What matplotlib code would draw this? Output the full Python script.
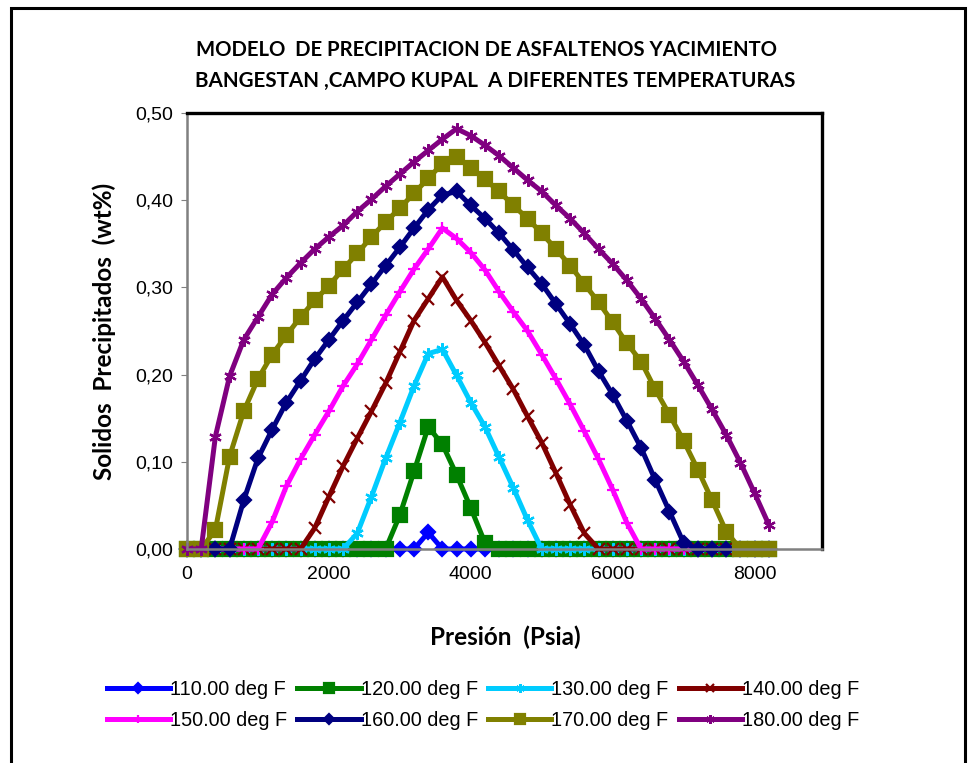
import matplotlib
matplotlib.use('Agg')
import matplotlib.pyplot as plt
from matplotlib.patches import Rectangle
from matplotlib.ticker import FuncFormatter, MultipleLocator

# Pressure grid (psia)
pressure = [0, 200, 400, 600, 800, 1000, 1200, 1400, 1600, 1800,
            2000, 2200, 2400, 2600, 2800, 3000, 3200, 3400, 3600, 3800,
            4000, 4200, 4400, 4600, 4800, 5000, 5200, 5400, 5600, 5800,
            6000, 6200, 6400, 6600, 6800, 7000, 7200, 7400, 7600, 7800,
            8000, 8200]

# Precipitated solids (wt%) per temperature
t110 = [0, 0, 0, 0, 0, 0, 0, 0, 0, 0,
        0, 0, 0, 0, 0, 0, 0, 0.019, 0, 0,
        0, 0, 0, 0, 0, 0, 0, 0, 0, 0,
        0, 0, 0, 0, 0, 0, 0, 0, 0, 0,
        0, 0]
t120 = [0, 0, 0, 0, 0, 0, 0, 0, 0, 0,
        0, 0, 0, 0, 0, 0.039, 0.089, 0.140, 0.120, 0.085,
        0.047, 0.007, 0, 0, 0, 0, 0, 0, 0, 0,
        0, 0, 0, 0, 0, 0, 0, 0, 0, 0,
        0, 0]
t130 = [0, 0, 0, 0, 0, 0, 0, 0, 0, 0,
        0, 0, 0.018, 0.060, 0.104, 0.145, 0.187, 0.224, 0.229, 0.199,
        0.168, 0.140, 0.105, 0.070, 0.033, 0, 0, 0, 0, 0,
        0, 0, 0, 0, 0, 0, 0, 0, 0, 0,
        0, 0]
t140 = [0, 0, 0, 0, 0, 0, 0, 0, 0, 0.024,
        0.060, 0.095, 0.127, 0.158, 0.190, 0.226, 0.262, 0.287, 0.312, 0.285,
        0.262, 0.237, 0.210, 0.183, 0.152, 0.122, 0.087, 0.051, 0.018, 0,
        0, 0, 0, 0, 0, 0, 0, 0, 0, 0,
        0, 0]
t150 = [0, 0, 0, 0, 0, 0, 0.031, 0.072, 0.103, 0.131,
        0.158, 0.187, 0.212, 0.240, 0.268, 0.295, 0.321, 0.344, 0.368, 0.356,
        0.340, 0.320, 0.295, 0.272, 0.250, 0.223, 0.195, 0.166, 0.135, 0.103,
        0.068, 0.030, 0, 0, 0, 0, 0, 0, 0, 0,
        0, 0]
t160 = [0, 0, 0, 0, 0.056, 0.104, 0.137, 0.168, 0.193, 0.218,
        0.240, 0.262, 0.283, 0.304, 0.325, 0.346, 0.368, 0.389, 0.406, 0.410,
        0.394, 0.379, 0.362, 0.343, 0.323, 0.304, 0.281, 0.258, 0.234, 0.204,
        0.177, 0.147, 0.116, 0.079, 0.043, 0.007, 0, 0, 0, 0,
        0, 0]
t170 = [0, 0, 0.022, 0.106, 0.158, 0.195, 0.223, 0.245, 0.266, 0.285,
        0.302, 0.321, 0.339, 0.358, 0.375, 0.391, 0.408, 0.425, 0.442, 0.450,
        0.437, 0.424, 0.410, 0.394, 0.379, 0.362, 0.344, 0.325, 0.304, 0.283,
        0.260, 0.236, 0.215, 0.183, 0.154, 0.124, 0.091, 0.056, 0.020, 0,
        0, 0]
t180 = [0, 0, 0.129, 0.198, 0.240, 0.266, 0.292, 0.311, 0.328, 0.344,
        0.358, 0.371, 0.387, 0.401, 0.416, 0.430, 0.444, 0.457, 0.470, 0.482,
        0.474, 0.463, 0.451, 0.437, 0.423, 0.410, 0.394, 0.379, 0.362, 0.344,
        0.327, 0.308, 0.287, 0.264, 0.240, 0.215, 0.188, 0.160, 0.131, 0.099,
        0.064, 0.028]

labels = ['110.00 deg F', '120.00 deg F', '130.00 deg F', '140.00 deg F',
          '150.00 deg F', '160.00 deg F', '170.00 deg F', '180.00 deg F']
series = [t110, t120, t130, t140, t150, t160, t170, t180]
colors = ['#0000FF', '#008000', '#00CCFF', '#800000',
          '#FF00FF', '#000080', '#808000', '#800080']
markers = ['D', 's', (6, 2, 0), 'x', '+', 'D', 's', (6, 2, 0)]
msizes = [7, 9.5, 9, 8, 9, 7, 9.5, 9]

plt.rcParams['font.family'] = ['Liberation Sans', 'DejaVu Sans']
bold_font = ['Lato', 'DejaVu Sans']

fig = plt.figure(figsize=(9.73, 7.63), dpi=100)
ax = fig.add_axes([187 / 973, 1 - 549 / 763, 635 / 973, 436 / 763])

lines = []
for vals, lab, c, m, ms in zip(series, labels, colors, markers, msizes):
    ln, = ax.plot(pressure, vals, color=c, lw=3.6, marker=m, markersize=ms,
                  markeredgewidth=1.6, markerfacecolor=c, markeredgecolor=c,
                  label=lab, clip_on=False)
    lines.append(ln)

ax.set_xlim(0, 8950)
ax.set_ylim(0, 0.5)
ax.xaxis.set_major_locator(MultipleLocator(2000))
ax.yaxis.set_major_locator(MultipleLocator(0.1))
ax.yaxis.set_major_formatter(FuncFormatter(lambda v, p: f'{v:.2f}'.replace('.', ',')))
ax.tick_params(axis='both', labelsize=14, direction='out', color='#808080')
ax.tick_params(axis='x', length=0, pad=12)
ax.tick_params(axis='y', length=4, pad=6)

for side in ['top', 'right']:
    ax.spines[side].set_color('black')
    ax.spines[side].set_linewidth(2.4)
for side in ['left', 'bottom']:
    ax.spines[side].set_color('#808080')
    ax.spines[side].set_linewidth(1.8)

fig.text(486 / 973, 1 - 50 / 763,
         'MODELO  DE PRECIPITACION DE ASFALTENOS YACIMIENTO',
         ha='center', va='center', fontsize=14.6, fontweight='bold', family=bold_font)
fig.text(495 / 973, 1 - 81 / 763,
         'BANGESTAN ,CAMPO KUPAL  A DIFERENTES TEMPERATURAS',
         ha='center', va='center', fontsize=14.9, fontweight='bold', family=bold_font)
fig.text(505 / 973, 1 - 637 / 763, 'Presión  (Psia)', ha='center', va='center',
         fontsize=17.5, fontweight='bold', family=bold_font)
fig.text(104 / 973, 1 - 331 / 763, 'Solidos  Precipitados  (wt%)', ha='center',
         va='center', rotation=90, fontsize=17.5, fontweight='bold', family=bold_font)

# legend filled row by row like the original (matplotlib fills by column)
order = [0, 4, 1, 5, 2, 6, 3, 7]
fig.legend([lines[i] for i in order], [labels[i] for i in order],
           loc='center', bbox_to_anchor=(483 / 973, 1 - 705 / 763), ncol=4,
           frameon=False, fontsize=14.3, handlelength=3.2, handletextpad=0.0,
           columnspacing=0.5, labelspacing=0.6, markerscale=0.7)

# outer chart border
fig.patches.append(Rectangle((11 / 973, -0.05), 954 / 973, 1 - 8 / 763 + 0.05,
                             transform=fig.transFigure, fill=False,
                             edgecolor='black', lw=2.2))

fig.savefig('out.png', dpi=100)
